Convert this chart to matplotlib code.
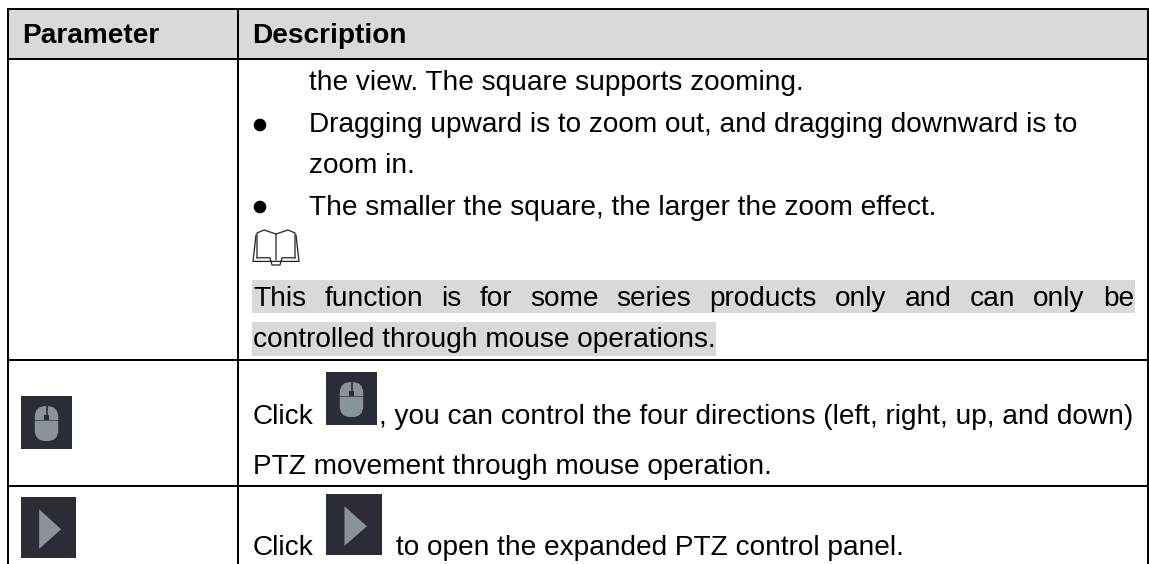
import matplotlib
matplotlib.use("Agg")
import matplotlib.pyplot as plt
from matplotlib.patches import Rectangle, Polygon, FancyBboxPatch, Circle

plt.rcParams['font.family'] = ['Liberation Sans', 'DejaVu Sans']

W, H = 1149, 564

col_lines = [8, 238, 1147.5]
row_lines = [9, 59, 360, 486]
headers = ["Parameter", "Description"]

# text, x, baseline y
body_lines = [
    ("the view. The square supports zooming.", 309, 90),
    ("Dragging upward is to zoom out, and dragging downward is to", 309, 132),
    ("zoom in.", 309, 173),
    ("The smaller the square, the larger the zoom effect.", 309, 215),
    ("controlled through mouse operations.", 253, 347),
    ("Click", 253, 424),
    (", you can control the four directions (left, right, up, and down)", 379, 424),
    ("PTZ movement through mouse operation.", 253, 474),
    ("Click", 253, 555),
    ("to open the expanded PTZ control panel.", 396, 555),
]
justified = "This function is for some series products only and can only be"
bullets_y = [125, 207]
hl_rows = [(252, 1135, 280, 313), (252, 716, 322, 356)]

ICON_BG = "#2a2c36"
ICON_FG = "#8a929a"
FS = 20.15


def draw_mouse(ax, x, y, w, h):
    ax.add_patch(Rectangle((x, y), w, h, fc=ICON_BG, ec="none", zorder=3))
    ax.add_patch(FancyBboxPatch((x + w*0.27, y + h*0.19), w*0.46, h*0.66,
                                boxstyle="round,pad=0,rounding_size=11",
                                fc=ICON_FG, ec="none", zorder=4))
    ax.plot([x + w*0.5, x + w*0.5], [y + h*0.19, y + h*0.42], color=ICON_BG, lw=1.2, zorder=5)
    ax.plot([x + w*0.27, x + w*0.73], [y + h*0.45, y + h*0.45], color=ICON_BG, lw=0.5, zorder=5)
    ax.add_patch(Rectangle((x + w*0.45, y + h*0.36), w*0.10, h*0.10, fc=ICON_BG, ec="none", zorder=5))


def draw_play(ax, x, y, w, h):
    ax.add_patch(Rectangle((x, y), w, h, fc=ICON_BG, ec="none", zorder=3))
    ax.add_patch(Polygon([(x + w*0.33, y + h*0.20), (x + w*0.33, y + h*0.85), (x + w*0.73, y + h*0.53)],
                         fc=ICON_FG, ec="none", zorder=4))


def draw_book(ax, x, y, w, h):
    kw = dict(color="#222222", lw=0.9, zorder=4)
    mid = x + w/2
    ax.plot([x + 5, x + 5, x + 12, mid, mid], [y + h*0.80, y + 4, y + 1, y + 5, y + h*0.85], **kw)
    ax.plot([x + w - 5, x + w - 5, x + w - 12, mid], [y + h*0.80, y + 4, y + 1, y + 5], **kw)
    ax.plot([x + 4, x + 1, x + 1, x + w - 1, x + w - 1, x + w - 4],
            [y + 6, y + h*0.9, y + h*0.9, y + h*0.9, y + h*0.9, y + 6], **kw)
    ax.plot([x + 5, x + 18, mid - 4, mid + 4, x + w - 18, x + w - 5],
            [y + h*0.80, y + h*0.80, y + h, y + h, y + h*0.80, y + h*0.80], **kw)


fig = plt.figure(figsize=(W/100, H/100), dpi=100)
ax = fig.add_axes([0, 0, 1, 1])
ax.set_xlim(0, W)
ax.set_ylim(H, 0)
ax.axis("off")

ax.add_patch(Rectangle((col_lines[0], row_lines[0]), col_lines[2]-col_lines[0], row_lines[1]-row_lines[0],
                       fc="#d9d9d9", ec="none"))
for x0, x1, y0, y1 in hl_rows:
    ax.add_patch(Rectangle((x0, y0), x1-x0, y1-y0, fc="#d9d9d9", ec="none"))

for x in col_lines:
    ax.plot([x, x], [row_lines[0]-1, H], color="black", lw=1.45, solid_capstyle="butt", zorder=6)
for y in row_lines:
    ax.plot([col_lines[0], col_lines[2]], [y, y], color="black", lw=1.45, zorder=6)

ax.text(22, 43, headers[0], fontsize=FS, fontweight="bold", va="baseline", color="black")
ax.text(252.5, 43, headers[1], fontsize=FS, fontweight="bold", va="baseline", color="black")
for txt, x, y in body_lines:
    ax.text(x, y, txt, fontsize=FS, va="baseline", color="black")
for y in bullets_y:
    ax.add_patch(Circle((260, y), 6.3, fc="black", ec="none", zorder=4))

# justified line, words spread between the two ends of the cell
fig.canvas.draw()
rend = fig.canvas.get_renderer()
words = justified.split()
items = [ax.text(0, 306, w, fontsize=FS, va="baseline", color="black") for w in words]
widths = [t.get_window_extent(rend).width for t in items]
x0, x1 = 253, 1134
gap = (x1 - x0 - sum(widths)) / (len(words) - 1)
xpos = x0
for t, wd in zip(items, widths):
    t.set_x(xpos)
    xpos += wd + gap

draw_book(ax, 252, 229, 48, 36)
draw_mouse(ax, 21, 396, 51, 53)
draw_play(ax, 21, 497, 55, 61)
draw_mouse(ax, 326, 372, 51, 53)
draw_play(ax, 326, 494, 56, 61)

fig.savefig("out.png", dpi=100)
